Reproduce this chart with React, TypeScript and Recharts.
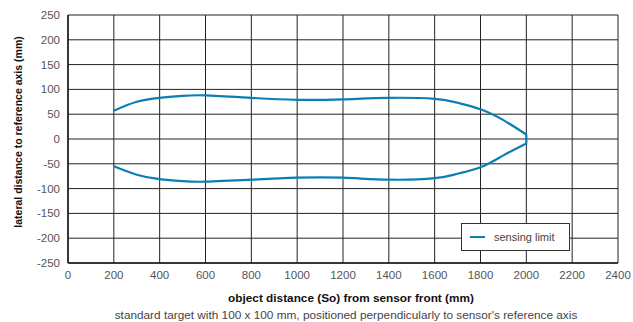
import {
  ComposedChart, Line, XAxis, YAxis, CartesianGrid, Legend,
} from "recharts";

// object distance (mm) where the limit was read
const DIST = [200, 300, 400, 500, 600, 800, 1000, 1200, 1400, 1600, 1700, 1800, 1900, 2000];
// upper / lower sensing limit (mm)
const UPPER = [57, 75, 83, 87, 88, 83, 79, 80, 83, 81, 73, 60, 38, 9];
const LOWER = [-55, -72, -81, -85, -86, -82, -78, -78, -82, -79, -70, -57, -33, -9];
// closing segment at the far end
const TIP_X = [2000, 2000];
const TIP_Y = [9, -9];

const X_TICKS = [0, 200, 400, 600, 800, 1000, 1200, 1400, 1600, 1800, 2000, 2200, 2400];
const Y_TICKS = [-250, -200, -150, -100, -50, 0, 50, 100, 150, 200, 250];

const BLUE = "#0a7eb5";
const FONT = "'Liberation Sans', Arial, Helvetica, sans-serif";

const data = DIST.map((x, i) => ({ x, upper: UPPER[i], lower: LOWER[i] }));
const tipData = TIP_X.map((x, i) => ({ x, tip: TIP_Y[i] }));

const AXIS = {
  tick: { fontSize: 11.5, fill: "#555", fontFamily: FONT },
  tickLine: false as const,
  axisLine: { stroke: "#1a1a1a", strokeWidth: 1.5 },
};

function XTitle({ viewBox }: any) {
  const cx = viewBox.x + viewBox.width / 2;
  return (
    <g fontFamily={FONT}>
      <text x={cx + 8} y={viewBox.y + 39} textAnchor="middle" fontSize={11.8} fontWeight="bold" fill="#111">
        object distance (So) from sensor front (mm)
      </text>
      <text x={cx + 3} y={viewBox.y + 56} textAnchor="middle" fontSize={11.8} fill="#444">
        standard target with 100 x 100 mm, positioned perpendicularly to sensor's reference axis
      </text>
    </g>
  );
}

function YTitle({ viewBox }: any) {
  const cy = viewBox.y + viewBox.height / 2 - 7;
  const cx = 18;
  return (
    <text
      x={cx} y={cy} transform={`rotate(-90 ${cx} ${cy})`}
      textAnchor="middle" dominantBaseline="central"
      fontFamily={FONT} fontSize={10.5} fontWeight="bold" fill="#111"
    >
      lateral distance to reference axis (mm)
    </text>
  );
}

function LegendBox() {
  return (
    <div style={{
      width: 107, height: 26, border: "1px solid #333", background: "#fff",
      display: "flex", alignItems: "center", fontFamily: FONT,
    }}>
      <span style={{ width: 15, height: 2, background: BLUE, marginLeft: 8 }} />
      <span style={{ marginLeft: 9, fontSize: 11, color: "#444" }}>sensing limit</span>
    </div>
  );
}

export default function App() {
  return (
    <div style={{ position: "absolute", left: 0, top: 0, width: 633, height: 322, background: "#fff" }}>
      <ComposedChart width={633} height={322} data={data} margin={{ top: 15, right: 15, left: 0, bottom: 39 }}>
        <CartesianGrid stroke="#222" strokeWidth={1} />
        <XAxis
          type="number" dataKey="x" domain={[0, 2400]} ticks={X_TICKS} interval={0}
          height={20} {...AXIS} label={<XTitle />}
        />
        <YAxis
          type="number" domain={[-250, 250]} ticks={Y_TICKS} interval={0}
          width={68} {...AXIS} label={<YTitle />}
        />
        <Legend
          layout="vertical" align="center" verticalAlign="middle"
          wrapperStyle={{ left: 461, top: 223, width: 109 }}
          content={<LegendBox />}
        />
        <Line dataKey="upper" name="sensing limit" type="natural" stroke={BLUE} strokeWidth={2.2} dot={false} isAnimationActive={false} />
        <Line dataKey="lower" type="natural" stroke={BLUE} strokeWidth={2.2} dot={false} legendType="none" isAnimationActive={false} />
        <Line data={tipData} dataKey="tip" type="linear" stroke={BLUE} strokeWidth={2.2} dot={false} legendType="none" isAnimationActive={false} />
      </ComposedChart>
    </div>
  );
}
